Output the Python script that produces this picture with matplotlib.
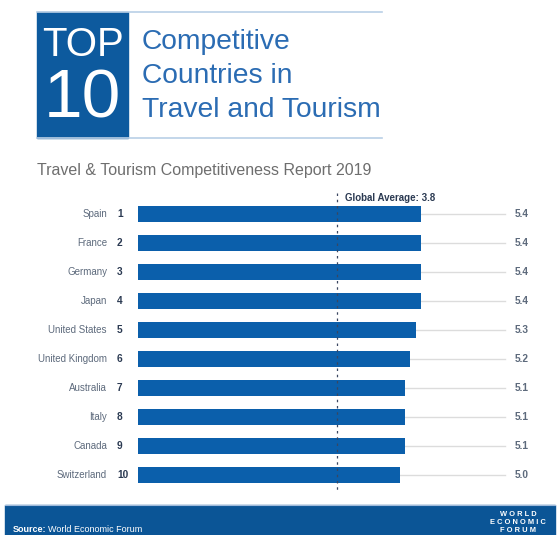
import matplotlib
matplotlib.use("Agg")
import matplotlib.pyplot as plt
from matplotlib.patches import Rectangle

plt.rcParams['font.family'] = ['Liberation Sans', 'DejaVu Sans']

# Data
countries = ["Spain", "France", "Germany", "Japan", "United States",
             "United Kingdom", "Australia", "Italy", "Canada", "Switzerland"]
ranks = [1, 2, 3, 4, 5, 6, 7, 8, 9, 10]
scores = [5.4, 5.4, 5.4, 5.4, 5.3, 5.2, 5.1, 5.1, 5.1, 5.0]
global_average = 3.8
score_max = 7.0

W, H = 560, 535
fig = plt.figure(figsize=(W / 100, H / 100), dpi=100)
fig.patch.set_facecolor("white")

# Full-figure axes: x in score units, y in row units
ax = fig.add_axes([0, 0, 1, 1])
px_per_unit = 52.4
x0_px = 138
row0_px, row_step = 214, 29
ax.set_xlim(-x0_px / px_per_unit, (W - x0_px) / px_per_unit)
ax.set_ylim((H - row0_px) / row_step, -row0_px / row_step)
ax.axis("off")


def fx(px):
    return px / W


def fy(py):
    return 1 - py / H


BAR = "#0b5fab"
DARK = "#2b3a52"
GREY_LABEL = "#5d6a7c"

# Header box and rules
fig.patches.append(Rectangle((fx(37), fy(138)), fx(128) - fx(37), fy(12) - fy(138),
                             transform=fig.transFigure, color="#0d5a9e", zorder=1))
for yline in (12, 138):
    fig.add_artist(plt.Line2D([fx(37), fx(382)], [fy(yline), fy(yline)],
                              transform=fig.transFigure, color="#b9cfe6", lw=1.2))
fig.text(fx(83), fy(45), "TOP", color="white", fontsize=29, ha="center", va="center")
fig.text(fx(82), fy(99), "10", color="white", fontsize=50, ha="center", va="center")
for i, line in enumerate(["Competitive", "Countries in", "Travel and Tourism"]):
    fig.text(fx(142), fy(42 + 34 * i), line, color="#2b6cb3", fontsize=20.3,
             ha="left", va="center")

fig.text(fx(37), fy(170), "Travel & Tourism Competitiveness Report 2019",
         color="#6e6e6e", fontsize=11.5, ha="left", va="center")

# Bars and guide lines
for i, (c, r, s) in enumerate(zip(countries, ranks, scores)):
    ax.plot([s, score_max], [i, i], color="#dcdcdc", lw=1, zorder=1)
    ax.barh(i, s, height=0.52, left=0, color=BAR, zorder=2)
    ax.text(-31 / px_per_unit, i, c, ha="right", va="center", fontsize=7,
            color=GREY_LABEL)
    ax.text(-21 / px_per_unit, i, str(r), ha="left", va="center", fontsize=7.3,
            color=DARK, fontweight="bold")
    ax.text(score_max + 10 / px_per_unit, i, f"{s:.1f}", ha="left", va="center",
            fontsize=7.3, color=GREY_LABEL, fontweight="bold")

# Global average marker
ax.plot([global_average, global_average], [-0.72, 9.55], color="#3a4660",
        lw=0.9, ls=(0, (2, 3)), zorder=3)
ax.text(global_average + 8 / px_per_unit, -0.55, f"Global Average: {global_average}",
        ha="left", va="center", fontsize=7, color=DARK, fontweight="bold")

# Footer band
fig.patches.append(Rectangle((fx(5), 0), fx(555) - fx(5), fy(505),
                             transform=fig.transFigure, color="#0b5596", zorder=1))
fig.add_artist(plt.Line2D([fx(5), fx(555)], [fy(505), fy(505)],
                          transform=fig.transFigure, color="#9fbadb", lw=0.8))
fig.text(fx(13), fy(529), "Source:", color="white", fontsize=6.5,
         fontweight="bold", ha="left", va="center")
fig.text(fx(48), fy(529), "World Economic Forum", color="white", fontsize=6.5,
         ha="left", va="center")
for j, word in enumerate(["W O R L D", "E C O N O M I C", "F O R U M"]):
    fig.text(fx(518), fy(514 + 8 * j), word, color="white", fontsize=5.4,
             fontweight="bold", ha="center", va="center")

fig.savefig("out.png", dpi=100)
